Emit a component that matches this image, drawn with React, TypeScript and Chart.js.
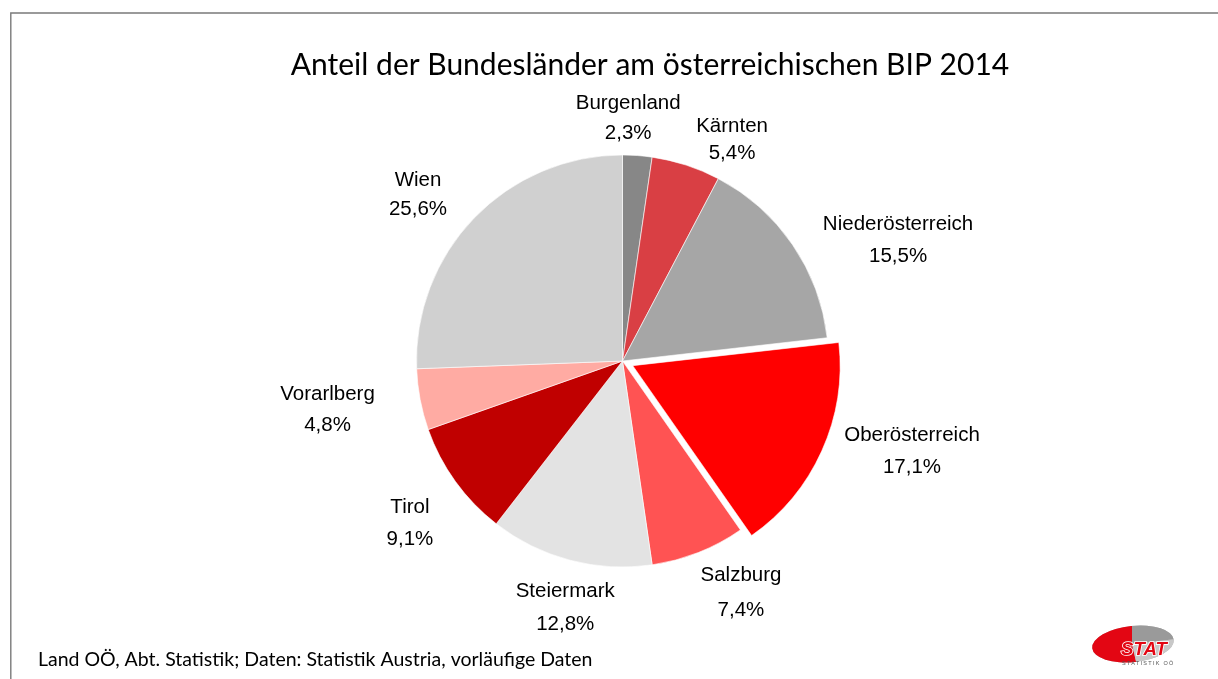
import React, { useEffect, useRef } from "react";
import { Chart, registerables } from "chart.js";

Chart.register(...registerables);

const categories = [
  "Burgenland",
  "Kärnten",
  "Niederösterreich",
  "Oberösterreich",
  "Salzburg",
  "Steiermark",
  "Tirol",
  "Vorarlberg",
  "Wien",
];
const shares = [2.3, 5.4, 15.5, 17.1, 7.4, 12.8, 9.1, 4.8, 25.6];
const titleText = "Anteil der Bundesländer am österreichischen BIP 2014";
const sourceText = "Land OÖ, Abt. Statistik; Daten: Statistik Austria, vorläufige Daten";

const sliceColors = [
  "#878787",
  "#d93f44",
  "#a6a6a6",
  "#ff0000",
  "#ff5353",
  "#e3e3e3",
  "#c00000",
  "#ffaba3",
  "#d0d0d0",
];
// Chart.js arc offset (internally scaled, ~12px visual shift)
const sliceOffsets = [0, 0, 0, 45, 0, 0, 0, 0, 0];
// label placement: angle shift (deg) from slice middle and distance from pie centre
const labelAngleShift = [-2.8, 8.2, 10.4, -7.2, -5.6, -1.6, -1.3, 1.65, -4.5];
const labelDistance = [244.4, 248.1, 301.6, 302.9, 259.2, 251.7, 266.6, 298.8, 264.7];
const labelLineGap = [30, 27.3, 31.7, 32, 35, 32.5, 32, 31, 29];

const LABEL_FONT_SIZE = 20.5;

const fmtPct = (v: number) => v.toFixed(1).replace(".", ",") + "%";

const decorPlugin = {
  id: "decor",
  beforeDraw(chart: any) {
    const ctx = chart.ctx;
    ctx.save();
    ctx.fillStyle = "#ffffff";
    ctx.fillRect(0, 0, chart.width, chart.height);
    ctx.strokeStyle = "#7a7a7a";
    ctx.lineWidth = 1.4;
    ctx.beginPath();
    ctx.moveTo(10.8, chart.height);
    ctx.lineTo(10.8, 13);
    ctx.lineTo(chart.width, 13);
    ctx.stroke();
    ctx.restore();
  },
  afterDraw(chart: any) {
    const ctx = chart.ctx;
    ctx.save();
    ctx.fillStyle = "#000000";
    ctx.textBaseline = "alphabetic";
    ctx.textAlign = "center";
    ctx.font = '30px Lato, "Open Sans", sans-serif';
    ctx.fillText(titleText, 650, 75);
    ctx.textAlign = "left";
    ctx.font = '19.5px Lato, "Open Sans", sans-serif';
    ctx.fillText(sourceText, 38, 666);
    ctx.restore();
  },
};

const labelPlugin = {
  id: "sliceLabels",
  afterDatasetsDraw(chart: any) {
    const ctx = chart.ctx;
    const meta = chart.getDatasetMeta(0);
    ctx.save();
    ctx.fillStyle = "#000000";
    ctx.font = `${LABEL_FONT_SIZE}px "Liberation Sans", Arial, sans-serif`;
    ctx.textAlign = "center";
    ctx.textBaseline = "alphabetic";
    const capHalf = 0.358 * LABEL_FONT_SIZE;
    meta.data.forEach((arc: any, i: number) => {
      const { x, y, startAngle, endAngle } = arc.getProps(
        ["x", "y", "startAngle", "endAngle"],
        true
      );
      const a = (startAngle + endAngle) / 2 + (labelAngleShift[i] * Math.PI) / 180;
      const cx = x + Math.cos(a) * labelDistance[i];
      const cy = y + Math.sin(a) * labelDistance[i];
      const gap = labelLineGap[i];
      ctx.fillText(categories[i], cx, cy - gap / 2 + capHalf);
      ctx.fillText(fmtPct(shares[i]), cx, cy + gap / 2 + capHalf);
    });
    ctx.restore();
  },
};

function Logo() {
  return (
    <svg
      width={100}
      height={52}
      viewBox="0 0 100 52"
      style={{ position: "absolute", left: 1086, top: 618 }}
    >
      <defs>
        <clipPath id="ell">
          <ellipse cx={47} cy={26} rx={41} ry={18} transform="rotate(-6 47 26)" />
        </clipPath>
      </defs>
      <g clipPath="url(#ell)">
        <rect x={0} y={0} width={100} height={52} fill="#b4b4b4" />
        <polygon points="46,26 46,0 100,0 100,20" fill="#9a9a9a" />
        <polygon points="46,26 46,0 0,0 0,52 52,52" fill="#e30613" />
        <polygon points="46,26 100,20 100,52 52,52" fill="#c8c8c8" />
      </g>
      <text
        x={35}
        y={37}
        fontFamily='"Liberation Sans", Arial, sans-serif'
        fontWeight="bold"
        fontStyle="italic"
        fontSize={18.6}
        fill="#e30613"
        stroke="#ffffff"
        strokeWidth={1.6}
        paintOrder="stroke"
      >
        STAT
      </text>
      <text
        x={36}
        y={47}
        fontFamily='"Liberation Sans", Arial, sans-serif'
        fontSize={5.5}
        letterSpacing={1.3}
        fill="#555555"
      >
        STATISTIK OÖ
      </text>
    </svg>
  );
}

export default function App() {
  const canvasRef = useRef<HTMLCanvasElement | null>(null);

  useEffect(() => {
    if (!canvasRef.current) return;
    const chart = new Chart(canvasRef.current, {
      type: "pie",
      data: {
        labels: categories,
        datasets: [
          {
            data: shares,
            backgroundColor: sliceColors,
            borderColor: "#ffffff",
            borderWidth: 0.6,
            offset: sliceOffsets,
            hoverOffset: 0,
          } as any,
        ],
      },
      options: {
        responsive: false,
        animation: false,
        devicePixelRatio: 1,
        radius: 206,
        layout: { padding: { left: 127, right: 100, top: 143, bottom: 100 } },
        plugins: {
          legend: { display: false },
          tooltip: { enabled: false },
          title: { display: false },
        },
        events: [],
      } as any,
      plugins: [decorPlugin, labelPlugin],
    });
    return () => chart.destroy();
  }, []);

  return (
    <div style={{ position: "fixed", left: 0, top: 0, width: 1218, height: 679, background: "#fff" }}>
      <canvas ref={canvasRef} width={1218} height={679} style={{ display: "block" }} />
      <Logo />
    </div>
  );
}
